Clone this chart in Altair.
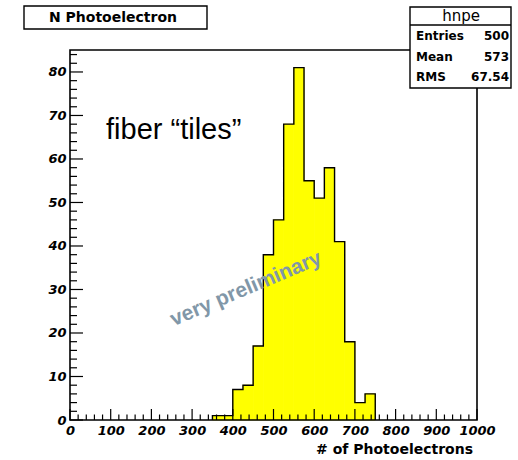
import altair as alt
import pandas as pd

# Histogram "hnpe": number of photoelectrons, 25-wide bins
bin_lo = [350, 375, 400, 425, 450, 475, 500, 525, 550, 575, 600, 625, 650, 675, 700, 725]
counts = [1, 1, 7, 8, 17, 38, 46, 68, 81, 55, 51, 58, 41, 18, 4, 6]
BIN_W = 25

stat_names = ["Entries", "Mean", "RMS"]
stat_values = ["500", "573", "67.54"]

x_ticks = list(range(0, 1001, 100))
y_ticks = list(range(0, 81, 10))

W, H = 407, 370
FONT = "DejaVu Sans"

hist = pd.DataFrame({"lo": bin_lo, "hi": [b + BIN_W for b in bin_lo], "n": counts})

# closed outline of the histogram (no inner bin edges)
edges = [bin_lo[0]] + bin_lo + [bin_lo[-1] + BIN_W]
heights = [0] + counts + [0]
outline = pd.DataFrame({"edge": edges, "h": heights, "o": list(range(len(edges)))})

xs = alt.Scale(domain=[0, 1000], nice=False, zero=False)
ys = alt.Scale(domain=[0, 85.05], nice=False)

x_axis = alt.Axis(values=x_ticks, format="d", ticks=False, domain=False, grid=False,
                  labelFont=FONT, labelFontStyle="italic", labelFontWeight="bold",
                  labelFontSize=13, labelColor="black", labelPadding=4,
                  labelOverlap=False, labelFlush=False, labelBound=False, title=None)
y_axis = alt.Axis(values=y_ticks, format="d", ticks=False, domain=False, grid=False,
                  labelFont=FONT, labelFontStyle="italic", labelFontWeight="bold",
                  labelFontSize=13, labelColor="black", labelPadding=4,
                  labelOverlap=False, labelFlush=False, labelBound=False, title=None)


def X(field):
    return alt.X(field, type="quantitative", scale=xs, axis=x_axis)


def Y(field):
    return alt.Y(field, type="quantitative", scale=ys, axis=y_axis)


bars = alt.Chart(hist).mark_rect(color="#ffff00", stroke="#ffff00", strokeWidth=0.8).encode(
    x=X("lo"), x2="hi", y=Y("n"), y2=alt.datum(0)
)

line = alt.Chart(outline).mark_line(interpolate="step-after", color="black",
                                     strokeWidth=1.4).encode(
    x=X("edge"), y=Y("h"), order="o:Q"
)

# inward tick marks (major and minor) on both axes
xmaj = pd.DataFrame({"t": list(range(0, 1001, 100))})
xmin = pd.DataFrame({"t": [v for v in range(0, 1001, 20) if v % 100]})
ymaj = pd.DataFrame({"t": list(range(0, 81, 10))})
ymin = pd.DataFrame({"t": [v for v in range(0, 85, 2) if v % 10]})

tick_style = dict(color="black", strokeWidth=1.2)
xt1 = alt.Chart(xmaj).mark_rule(**tick_style).encode(x=X("t"), y=alt.value(H), y2=alt.value(H - 11))
xt2 = alt.Chart(xmin).mark_rule(**tick_style).encode(x=X("t"), y=alt.value(H), y2=alt.value(H - 5.5))
yt1 = alt.Chart(ymaj).mark_rule(**tick_style).encode(y=Y("t"), x=alt.value(0), x2=alt.value(13))
yt2 = alt.Chart(ymin).mark_rule(**tick_style).encode(y=Y("t"), x=alt.value(0), x2=alt.value(7))

one = pd.DataFrame({"k": [0]})

frame = alt.Chart(one).mark_rect(fillOpacity=0, stroke="black", strokeWidth=1.6).encode(
    x=alt.value(0), x2=alt.value(W), y=alt.value(0), y2=alt.value(H)
)

# title pave
title_box = alt.Chart(one).mark_rect(fill="white", stroke="black", strokeWidth=1.4).encode(
    x=alt.value(-46), x2=alt.value(137), y=alt.value(-44), y2=alt.value(-21)
)
title_txt = alt.Chart(one).mark_text(text="N Photoelectron", font=FONT, fontWeight="bold",
                                     fontSize=14, align="center", baseline="middle",
                                     color="black").encode(
    x=alt.value(43), y=alt.value(-32)
)

# statistics box
stat_box = alt.Chart(one).mark_rect(fill="white", stroke="black", strokeWidth=1.4).encode(
    x=alt.value(340), x2=alt.value(441), y=alt.value(-43), y2=alt.value(38)
)
stat_sep = alt.Chart(one).mark_rule(color="black", strokeWidth=1.4).encode(
    x=alt.value(340), x2=alt.value(441), y=alt.value(-25)
)
stat_head = alt.Chart(one).mark_text(text="hnpe", font=FONT, fontSize=15,
                                     align="center", baseline="middle", color="black").encode(
    x=alt.value(391), y=alt.value(-34)
)

stat_layers = []
row_pos = [-14.5, 6.5, 26.5]
for name, val, ry in zip(stat_names, stat_values, row_pos):
    stat_layers.append(
        alt.Chart(one).mark_text(text=name, font=FONT, fontWeight="bold", fontSize=12,
                                 align="left", baseline="middle", color="black").encode(
            x=alt.value(346), y=alt.value(ry))
    )
    stat_layers.append(
        alt.Chart(one).mark_text(text=val, font=FONT, fontWeight="bold", fontSize=12,
                                 align="right", baseline="middle", color="black").encode(
            x=alt.value(439), y=alt.value(ry))
    )

fiber = alt.Chart(one).mark_text(text="fiber \u201ctiles\u201d", font="Liberation Sans",
                                 fontSize=29, align="left", baseline="alphabetic",
                                 color="black").encode(
    x=alt.value(36), y=alt.value(89)
)

prelim = alt.Chart(one).mark_text(text="very preliminary", font="Liberation Sans",
                                  fontWeight="bold", fontSize=21, angle=337,
                                  align="center", baseline="middle",
                                  color="#8197a8").encode(
    x=alt.value(176), y=alt.value(239)
)

x_title = alt.Chart(one).mark_text(text="# of Photoelectrons", font=FONT, fontWeight="bold",
                                   fontSize=14, align="right", baseline="middle",
                                   color="black").encode(
    x=alt.value(403), y=alt.value(30 + H)
)

chart = alt.layer(
    bars, line, xt1, xt2, yt1, yt2, frame, prelim,
    title_box, title_txt, stat_box, stat_sep, stat_head, *stat_layers,
    fiber, x_title
).properties(
    width=W, height=H,
    autosize=alt.AutoSizeParams(type="none"),
    padding={"left": 70, "top": 50, "right": 41, "bottom": 40},
    background="white",
).configure_view(stroke="transparent")

chart.save("out.html", embed_options={"renderer": "svg", "actions": False})
